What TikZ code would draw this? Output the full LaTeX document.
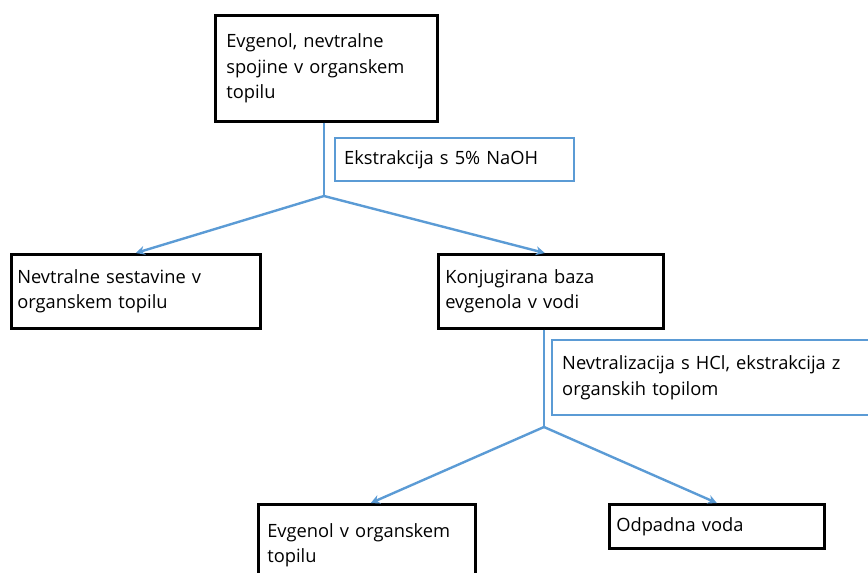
\documentclass[tikz,border=0pt]{standalone}
\usepackage{fontspec}
\setmainfont{Open Sans}
\usetikzlibrary{arrows.meta}
\definecolor{lineblue}{RGB}{91,155,213}

\begin{document}
\begin{tikzpicture} [
    x=1pt, y=-1pt,
    block/.style    = { rectangle, draw=black, line width=2.6pt, anchor=north west,
                        align=left, inner ysep=0pt,
                        font=\fontsize{18.3}{25.5}\selectfont },
    tagbox/.style   = { block, draw=lineblue, line width=2.4pt },
    line/.style     = { draw=lineblue, line width=2.4pt },
    arrow/.style    = { line, -{Stealth[length=9pt,width=9pt]} },
  ]

  \useasboundingbox (0,0) rectangle (868,573);

  % boxes
  \node[block, minimum width=222, minimum height=106, text width=200, inner xsep=11]
    (evgenol) at (214,14) {Evgenol, nevtralne\\spojine v organskem\\topilu};
  \node[tagbox, minimum width=239, minimum height=43, text width=221, inner xsep=9]
    (naoh) at (334,137) {Ekstrakcija s 5\% NaOH};
  \node[block, minimum width=249, minimum height=74, text width=237, inner xsep=6]
    (nevtral) at (10,253) {Nevtralne sestavine v\\organskem topilu};
  \node[block, minimum width=225, minimum height=74, text width=211, inner xsep=7]
    (konj) at (437,253) {Konjugirana baza\\evgenola v vodi};
  \node[tagbox, minimum width=340, minimum height=75, text width=320, inner xsep=10]
    (hcl) at (551,339) {Nevtralizacija s HCl, ekstrakcija z\\organskih topilom};
  \node[block, minimum width=217, minimum height=82, text width=199, inner xsep=9]
    (evgorg) at (257,503) {Evgenol v organskem\\topilu};
  \node[block, minimum width=215, minimum height=44, text width=201, inner xsep=7]
    (odpad) at (608,503) {Odpadna voda};

  % split points
  \coordinate (split1) at (324,196);
  \coordinate (split2) at (544,427);

  % connect the nodes
  \path [line] (evgenol.south -| split1) -- (split1);
  \path [arrow] (split1) -- (nevtral.north);
  \path [arrow] (split1) -- ([xshift=-6]konj.north);
  \path [line] (konj.south -| split2) -- (split2);
  \path [arrow] (split2) -- ([xshift=4]evgorg.north);
  \path [arrow] (split2) -- (odpad.north);
\end{tikzpicture}
\end{document}
